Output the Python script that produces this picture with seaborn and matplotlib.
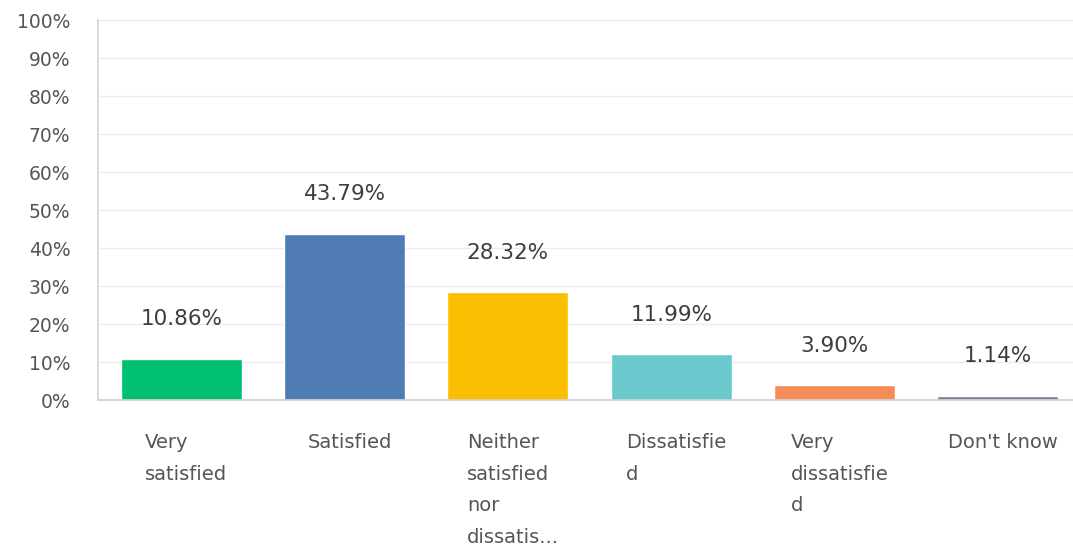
import matplotlib
matplotlib.use("Agg")
import matplotlib.pyplot as plt
import matplotlib.transforms as mtransforms
import seaborn as sns
import pandas as pd

# chart data
categories = ["Very satisfied", "Satisfied", "Neither satisfied nor dissatisfied",
              "Dissatisfied", "Very dissatisfied", "Don't know"]
tick_labels = ["Very\nsatisfied", "Satisfied", "Neither\nsatisfied\nnor\ndissatis...",
               "Dissatisfie\nd", "Very\ndissatisfie\nd", "Don't know"]
percentages = [10.86, 43.79, 28.32, 11.99, 3.90, 1.14]
bar_colors = ["#00bf6f", "#507cb6", "#f9be00", "#6bc8cd", "#f68d57", "#7d8093"]

df = pd.DataFrame({"answer": categories, "pct": percentages})

sns.set_theme(style="white")
plt.rcParams['font.family'] = ['DejaVu Sans']

fig = plt.figure(figsize=(10.73, 5.51), dpi=100)
ax = fig.add_axes([98 / 1073, 151 / 551, 975 / 1073, 380 / 551])

sns.barplot(data=df, x="answer", y="pct", hue="answer", palette=bar_colors,
            legend=False, width=0.74, saturation=1, ax=ax)

ax.set_ylim(0, 100)
ax.set_xlim(-0.51, 5.46)
ax.set_yticks(range(0, 101, 10))
ax.set_yticklabels([f"{v}%" for v in range(0, 101, 10)], fontsize=13.5, color="#555555")
ax.tick_params(axis="y", length=0, pad=20)
ax.set_xticks([])
ax.set_xlabel("")
ax.set_ylabel("")
ax.yaxis.grid(True, color="#ececec", linewidth=1)
ax.set_axisbelow(True)

for side in ["top", "right"]:
    ax.spines[side].set_visible(False)
ax.spines["left"].set_color("#d6d6d6")
ax.spines["bottom"].set_color("#d0d0d0")

# value labels above bars
for i, v in enumerate(percentages):
    ax.annotate(f"{v:.2f}%", (i, v), xytext=(0, 28.5), textcoords="offset points",
                ha="center", va="center", fontsize=15.5, color="#3d3d3d")

# category labels under the axis, block centred, lines left aligned
trans = mtransforms.blended_transform_factory(ax.transData, ax.transAxes)
for i, lab in enumerate(tick_labels):
    ax.text(i + 0.03, -0.087, lab, transform=trans, ha="center", va="top",
            multialignment="left", fontsize=14, color="#555555", linespacing=1.84)

fig.savefig("out.png", dpi=100)
